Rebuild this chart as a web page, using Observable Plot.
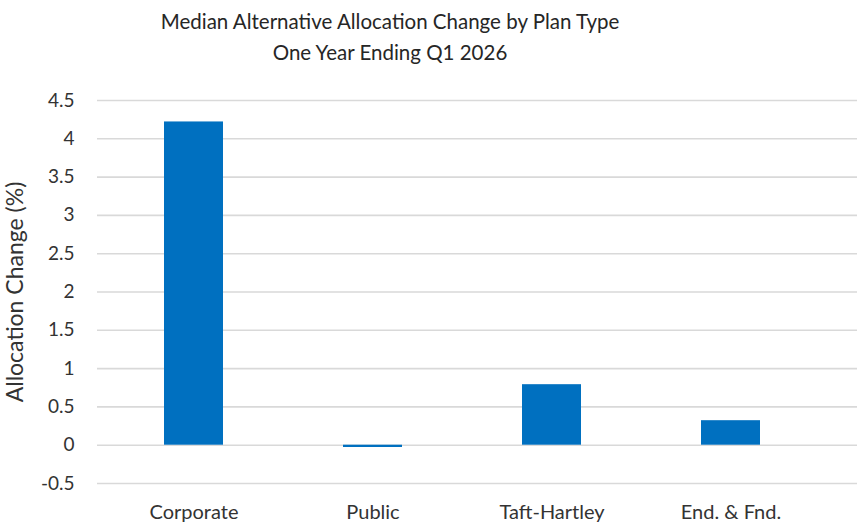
<!DOCTYPE html>
<html>
<head>
<meta charset="utf-8">
<script src="https://cdn.jsdelivr.net/npm/d3@7"></script>
<script src="https://cdn.jsdelivr.net/npm/@observablehq/plot@0.6"></script>
<style>
  html, body { margin: 0; padding: 0; background: #fff; }
  #wrap { position: relative; width: 857px; height: 524px; font-family: Lato, "Open Sans", sans-serif; }
  #title { position: absolute; left: 0; width: 780px; top: 6px; text-align: center; font-size: 20.5px; line-height: 31px; color: #262626; }
  #chart { position: absolute; left: 0; top: 0; }
</style>
</head>
<body>
<div id="wrap">
  <div id="chart"></div>
  <div id="title">Median Alternative Allocation Change by Plan Type<br>One Year Ending Q1 2026</div>
</div>
<script>
const categories = ["Corporate", "Public", "Taft-Hartley", "End. & Fnd."];
const values = [4.22, -0.03, 0.79, 0.32];
const yTicks = [-0.5, 0, 0.5, 1, 1.5, 2, 2.5, 3, 3.5, 4, 4.5];
const yLabel = "Allocation Change (%)";

const data = categories.map((c, i) => ({category: c, value: values[i]}));

const chart = Plot.plot({
  width: 857,
  height: 524,
  marginTop: 100,
  marginBottom: 41,
  marginLeft: 97,
  marginRight: 0,
  style: {fontFamily: "Lato, 'Open Sans', sans-serif", fontSize: "19px", color: "#333", background: "transparent"},
  x: {domain: categories, range: [103, 821], paddingInner: 0.67, paddingOuter: 0.335},
  y: {domain: [-0.5, 4.5]},
  marks: [
    Plot.ruleY(yTicks, {stroke: "#d9d9d9", strokeWidth: 1.6}),
    Plot.barY(data, {x: "category", y: "value", fill: "#0070C0"}),
    Plot.axisX({tickSize: 0, tickPadding: 21, label: null, fontSize: 20}),
    Plot.axisY({ticks: yTicks, tickFormat: d => String(d), tickSize: 0, tickPadding: 23, fontSize: 19, label: null}),
    Plot.axisY({ticks: [], tickSize: 0, fontSize: 23,
      label: yLabel, labelAnchor: "center", labelArrow: "none", labelOffset: 91})
  ]
});
document.getElementById("chart").appendChild(chart);
</script>
</body>
</html>
